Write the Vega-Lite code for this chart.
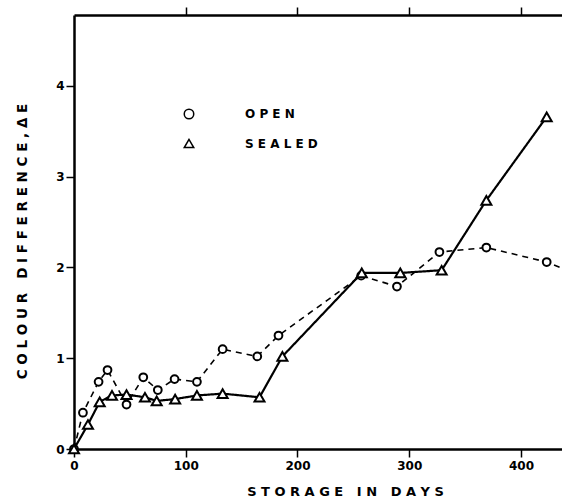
{
  "$schema": "https://vega.github.io/schema/vega-lite/v6.json",
  "autosize": {"type": "none"},
  "padding": {"left": 74, "top": 15, "right": 0, "bottom": 48},
  "width": 488,
  "height": 434,
  "background": "white",
  "config": {
    "view": {"stroke": null},
    "font": "DejaVu Sans",
    "point": {"opacity": 1},
    "axis": {
      "domainColor": "black",
      "domainWidth": 2.5,
      "tickColor": "black",
      "tickWidth": 1.5,
      "tickSize": 8,
      "grid": false,
      "labelColor": "black",
      "labelFont": "DejaVu Sans",
      "labelFontWeight": "bold",
      "labelFontSize": 12,
      "titleColor": "black",
      "titleFont": "DejaVu Sans",
      "titleFontWeight": "bold",
      "titleFontSize": 13
    }
  },
  "data": {
    "values": [
      {"series": "OPEN", "days": 0, "dE": 0},
      {"series": "OPEN", "days": 8, "dE": 0.40},
      {"series": "OPEN", "days": 22, "dE": 0.74},
      {"series": "OPEN", "days": 30, "dE": 0.87},
      {"series": "OPEN", "days": 47, "dE": 0.49},
      {"series": "OPEN", "days": 62, "dE": 0.79},
      {"series": "OPEN", "days": 75, "dE": 0.65},
      {"series": "OPEN", "days": 90, "dE": 0.77},
      {"series": "OPEN", "days": 110, "dE": 0.74},
      {"series": "OPEN", "days": 133, "dE": 1.10},
      {"series": "OPEN", "days": 164, "dE": 1.02},
      {"series": "OPEN", "days": 183, "dE": 1.25},
      {"series": "OPEN", "days": 257, "dE": 1.91},
      {"series": "OPEN", "days": 289, "dE": 1.79},
      {"series": "OPEN", "days": 327, "dE": 2.17},
      {"series": "OPEN", "days": 369, "dE": 2.22},
      {"series": "OPEN", "days": 423, "dE": 2.06},
      {"series": "OPEN", "days": 465, "dE": 1.85},
      {"series": "SEALED", "days": 0, "dE": 0},
      {"series": "SEALED", "days": 12.5, "dE": 0.27},
      {"series": "SEALED", "days": 23, "dE": 0.52},
      {"series": "SEALED", "days": 34, "dE": 0.59},
      {"series": "SEALED", "days": 47, "dE": 0.60},
      {"series": "SEALED", "days": 63.5, "dE": 0.57},
      {"series": "SEALED", "days": 74, "dE": 0.53},
      {"series": "SEALED", "days": 90.5, "dE": 0.55},
      {"series": "SEALED", "days": 110, "dE": 0.59},
      {"series": "SEALED", "days": 133, "dE": 0.61},
      {"series": "SEALED", "days": 166, "dE": 0.57},
      {"series": "SEALED", "days": 186.5, "dE": 1.02},
      {"series": "SEALED", "days": 257.5, "dE": 1.94},
      {"series": "SEALED", "days": 292, "dE": 1.94},
      {"series": "SEALED", "days": 329, "dE": 1.97},
      {"series": "SEALED", "days": 369, "dE": 2.74},
      {"series": "SEALED", "days": 423, "dE": 3.66}
    ]
  },
  "resolve": {"axis": {"x": "independent"}},
  "layer": [
    {
      "mark": {"type": "line", "color": "black", "clip": true},
      "encoding": {
        "x": {
          "field": "days",
          "type": "quantitative",
          "scale": {"domain": [0, 436.7], "nice": false, "zero": false},
          "axis": {
            "orient": "bottom",
            "values": [0, 100, 200, 300, 400],
            "title": "S T O R A G E\u00a0\u00a0 I N\u00a0\u00a0 D A Y S",
            "titleX": 271,
            "titleY": 42,
            "titleBaseline": "middle",
            "titleAlign": "center",
            "labelPadding": 3,
            "labelFlush": false,
            "encode": {"ticks": {"update": {"y2": {"value": -8}}}}
          }
        },
        "y": {
          "field": "dE",
          "type": "quantitative",
          "scale": {"domain": [0, 4.782], "nice": false, "zero": false},
          "axis": {
            "values": [0, 1, 2, 3, 4],
            "format": "d",
            "title": "C O L O U R\u00a0\u00a0 D I F F E R E N C E , Δ E",
            "titleX": -52,
            "titleY": 226,
            "titleBaseline": "middle",
            "titleAlign": "center",
            "titleAngle": 270,
            "titleFontSize": 13.5,
            "labelPadding": 2,
            "labelFlush": false,
            "encode": {"ticks": {"update": {"x2": {"value": 8}}}}
          }
        },
        "detail": {"field": "series"},
        "strokeDash": {"condition": {"test": "datum.series == 'OPEN'", "value": [6, 5]}, "value": [1, 0]},
        "strokeWidth": {"condition": {"test": "datum.series == 'OPEN'", "value": 1.6}, "value": 2.2}
      }
    },
    {
      "mark": {"type": "point", "filled": true, "fill": "white", "stroke": "black", "strokeWidth": 2},
      "encoding": {
        "x": {
          "field": "days",
          "type": "quantitative",
          "axis": {
            "orient": "top",
            "values": [100, 200, 300, 400],
            "labels": false,
            "title": null,
            "encode": {"ticks": {"update": {"y2": {"value": 8}}}}
          }
        },
        "y": {"field": "dE", "type": "quantitative"},
        "size": {"condition": {"test": "datum.series == 'OPEN'", "value": 60}, "value": 100},
        "shape": {
          "field": "series",
          "type": "nominal",
          "scale": {"domain": ["OPEN", "SEALED"], "range": ["circle", "triangle-up"]},
          "legend": {
            "orient": "none",
            "legendX": 109,
            "legendY": 93,
            "title": null,
            "symbolSize": 90,
            "labelOffset": 50,
            "rowPadding": 13.5,
            "labelFont": "DejaVu Sans",
            "labelFontWeight": "bold",
            "labelFontSize": 12,
            "labelColor": "black",
            "labelExpr": "join(split(datum.label, ''), ' ')"
          }
        }
      }
    }
  ]
}
